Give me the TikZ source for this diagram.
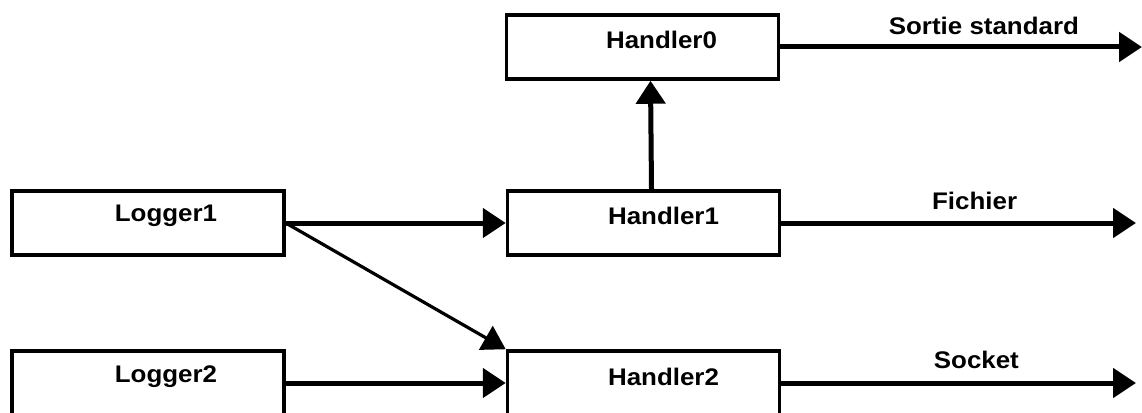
\documentclass[tikz,border=0pt]{standalone}
\usepackage{fontspec}
\setmainfont{Liberation Sans}
\usetikzlibrary{arrows.meta,calc}
\newcommand{\widetext}[1]{\scalebox{1.08}[1]{#1}}
\tikzset{
  box/.style={draw, line width=3.5pt, rectangle, minimum width=272pt, minimum height=64pt, inner sep=0pt},
  lbl/.style={font=\fontsize{24}{28}\selectfont\bfseries, inner sep=0pt},
  flow/.style={line width=5pt, -{Triangle[length=23pt,width=29pt]}},
  thinflow/.style={line width=3.2pt, -{Triangle[length=23pt,width=27pt]}},
}
\begin{document}
\begin{tikzpicture}[x=1pt, y=-1pt]
  \useasboundingbox (0,0) rectangle (1142,412);

  % handler and logger boxes
  \node[box] (h0) at (642.5,47) {};
  \node[box] (h1) at (643.5,223) {};
  \node[box] (h2) at (643.5,383) {};
  \node[box] (l1) at (148,223) {};
  \node[box] (l2) at (148,383) {};

  % box captions, set a little above and right of centre
  \node[lbl] (t0) at ($(h0.center)+(19,-7)$) {\widetext{Handler0}};
  \node[lbl] (t1) at ($(h1.center)+(20,-7)$) {\widetext{Handler1}};
  \node[lbl] (t2) at ($(h2.center)+(20,-6)$) {\widetext{Handler2}};
  \node[lbl] (tl1) at ($(l1.center)+(18,-7)$) {\widetext{Logger1}};
  \node[lbl] (tl2) at ($(l2.center)+(18,-6)$) {\widetext{Logger2}};

  % outputs
  \coordinate (o0) at (1142,47);
  \coordinate (o1) at (1136,223);
  \coordinate (o2) at (1136,383);
  \draw[flow] (h0.east) -- (o0) node[lbl, pos=0.563, above=10pt] {\widetext{Sortie standard}};
  \draw[flow] (h1.east) -- (o1) node[lbl, pos=0.545, above=11pt] {\widetext{Fichier}};
  \draw[flow] (h2.east) -- (o2) node[lbl, pos=0.55, above=12pt] {\widetext{Socket}};

  % loggers to handlers
  \draw[flow] (l1.east) -- (h1.west);
  \draw[flow] (l2.east) -- (h2.west);
  \draw[thinflow] (l1.east) -- (h2.north west);
  \draw[flow] ($(h1.north)+(8,0)$) -- ($(h0.south)+(8,0)$);
\end{tikzpicture}
\end{document}
